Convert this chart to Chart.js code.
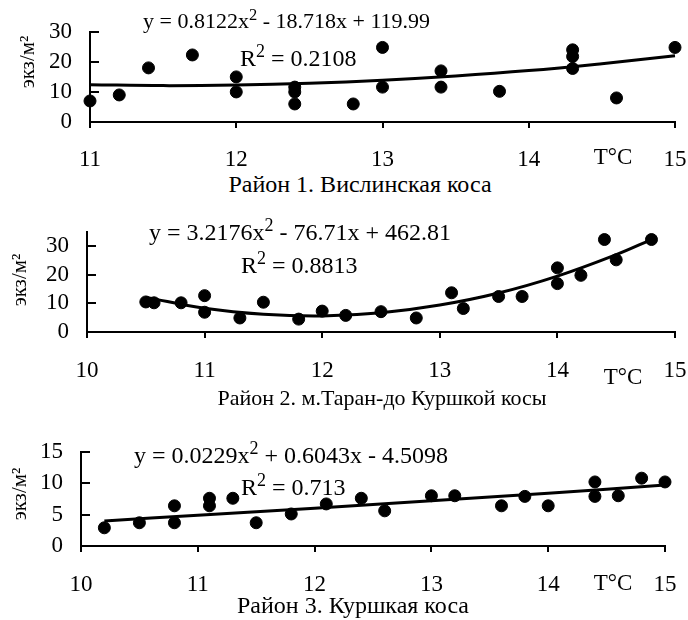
<!DOCTYPE html>
<html>
<head>
<meta charset="utf-8">
<script src="https://cdn.jsdelivr.net/npm/chart.js@4.4.0/dist/chart.umd.min.js"></script>
<style>
  body { margin: 0; background: #fff; }
  #wrap { position: relative; width: 688px; height: 620px; font-family: "Liberation Serif", "Times New Roman", serif; color: #000; }
  canvas { position: absolute; left: 0; }
  .txt { position: absolute; white-space: nowrap; line-height: 1; transform: translateY(-50%); font-size: 22px; }
  .ctr { transform: translate(-50%, -50%); }
  sup { font-size: 0.75em; vertical-align: 0.5em; line-height: 0; }
</style>
</head>
<body>
<div id="wrap">
  <canvas id="c1" width="688" height="170" style="top:0"></canvas>
  <canvas id="c2" width="688" height="190" style="top:200px"></canvas>
  <canvas id="c3" width="688" height="180" style="top:420px"></canvas>

  <div class="txt" style="left:143px;top:21px">y = 0.8122x<sup>2</sup> - 18.718x + 119.99</div>
  <div class="txt" style="left:240px;top:58px;font-size:24px">R<sup>2</sup> = 0.2108</div>
  <div class="txt ctr" style="left:613px;top:156px;font-size:23px">T°C</div>
  <div class="txt ctr" style="left:360px;top:184px;font-size:24px">Район 1. Вислинская коса</div>

  <div class="txt" style="left:149px;top:232px;font-size:24px">y = 3.2176x<sup>2</sup> - 76.71x + 462.81</div>
  <div class="txt" style="left:241px;top:265px;font-size:24px">R<sup>2</sup> = 0.8813</div>
  <div class="txt ctr" style="left:623px;top:376px;font-size:23px">T°C</div>
  <div class="txt ctr" style="left:382px;top:398px;font-size:22px">Район 2. м.Таран-до Куршкой косы</div>

  <div class="txt" style="left:134px;top:455px;font-size:24px">y = 0.0229x<sup>2</sup> + 0.6043x - 4.5098</div>
  <div class="txt" style="left:241px;top:487px;font-size:24px">R<sup>2</sup> = 0.713</div>
  <div class="txt ctr" style="left:613px;top:582px;font-size:23px">T°C</div>
  <div class="txt ctr" style="left:353px;top:605px;font-size:24px">Район 3. Куршкая коса</div>
</div>
<script>
// Район 1
const p1X = [11.0, 11.2, 11.4, 11.7, 12.0, 12.0, 12.4, 12.4, 12.4, 12.8, 13.0, 13.0, 13.4, 13.4, 13.8, 14.3, 14.3, 14.3, 14.6, 15.0];
const p1Y = [7.0, 9.0, 18.0, 22.3, 15.0, 10.0, 11.6, 10.0, 6.0, 6.0, 24.8, 11.6, 17.0, 11.6, 10.2, 24.0, 21.8, 17.8, 8.0, 24.8];
const p1TrendX = [11, 11.5, 12, 12.5, 13, 13.5, 14, 14.5, 15];
const p1TrendY = [12.4, 12.1, 12.3, 12.9, 13.9, 15.3, 17.1, 19.4, 22.0];
const p1XTicks = [11, 12, 13, 14, 15];
const p1YTicks = [0, 10, 20, 30];

// Район 2
const p2X = [10.5, 10.57, 10.8, 11.0, 11.0, 11.3, 11.5, 11.8, 12.0, 12.2, 12.5, 12.8, 13.1, 13.2, 13.5, 13.7, 14.0, 14.0, 14.2, 14.4, 14.5, 14.8];
const p2Y = [10.5, 10.2, 10.2, 12.7, 6.9, 4.9, 10.4, 4.5, 7.3, 5.8, 7.1, 4.9, 13.7, 8.2, 12.4, 12.4, 22.4, 16.9, 19.8, 32.3, 25.2, 32.3];
const p2TrendX = [10.5, 11, 11.5, 12, 12.5, 13, 13.5, 14, 14.5, 14.8];
const p2TrendY = [12.1, 8.3, 6.2, 5.6, 6.7, 9.4, 13.6, 19.5, 27.0, 32.3];
const p2XTicks = [10, 11, 12, 13, 14, 15];
const p2YTicks = [0, 10, 20, 30];

// Район 3
const p3X = [10.2, 10.5, 10.8, 10.8, 11.1, 11.1, 11.3, 11.5, 11.8, 12.1, 12.4, 12.6, 13.0, 13.2, 13.6, 13.8, 14.0, 14.4, 14.4, 14.6, 14.8, 15.0];
const p3Y = [2.9, 3.7, 6.4, 3.7, 7.6, 6.4, 7.6, 3.7, 5.1, 6.7, 7.6, 5.6, 8.0, 8.0, 6.4, 7.9, 6.4, 10.2, 7.9, 8.0, 10.8, 10.2];
const p3TrendX = [10.2, 11, 12, 13, 14, 15];
const p3TrendY = [4.0, 4.9, 6.0, 7.2, 8.4, 9.7];
const p3XTicks = [10, 11, 12, 13, 14, 15];
const p3YTicks = [0, 5, 10, 15];

const yTitle = 'экз/м²';
const serif = '"Liberation Serif", "Times New Roman", serif';

Chart.defaults.color = '#000';
Chart.defaults.font.family = serif;

// y-axis ticks point inward, and the rotated unit label sits left of the numbers
const axisExtras = {
    id: 'axisExtras',
    afterDraw(chart, args, opts) {
        const ys = chart.scales.y;
        const ctx = chart.ctx;
        ctx.save();
        ctx.strokeStyle = '#000';
        ctx.lineWidth = 2;
        ys.ticks.forEach(t => {
            const py = Math.round(ys.getPixelForValue(t.value));
            ctx.beginPath();
            ctx.moveTo(ys.right, py);
            ctx.lineTo(ys.right + 9, py);
            ctx.stroke();
        });
        ctx.translate(opts.titleX, opts.titleY);
        ctx.rotate(-Math.PI / 2);
        ctx.fillStyle = '#000';
        ctx.font = '21px ' + serif;
        ctx.textAlign = 'center';
        ctx.textBaseline = 'middle';
        ctx.fillText(yTitle, 0, 0);
        ctx.restore();
    }
};

function pts(xs, ys) {
    return xs.map((x, i) => ({ x: x, y: ys[i] }));
}

function makeChart(id, o) {
    new Chart(document.getElementById(id), {
        type: 'scatter',
        data: {
            datasets: [{
                data: pts(o.xs, o.ys),
                backgroundColor: '#000',
                borderColor: '#000',
                pointRadius: 6,
                pointHoverRadius: 6,
                clip: false
            }, {
                type: 'line',
                data: pts(o.tx, o.ty),
                borderColor: '#000',
                borderWidth: 3,
                pointRadius: 0,
                fill: false,
                tension: 0.4,
                clip: false
            }]
        },
        options: {
            responsive: false,
            animation: false,
            events: [],
            layout: { padding: { top: o.padTop, right: o.padRight, left: 0, bottom: 0 } },
            plugins: {
                legend: { display: false },
                tooltip: { enabled: false },
                axisExtras: { titleX: o.titleX, titleY: o.titleY }
            },
            scales: {
                x: {
                    type: 'linear',
                    min: o.xMin,
                    max: o.xMax,
                    afterBuildTicks: s => { s.ticks = o.xTicks.map(v => ({ value: v })); },
                    afterFit: s => { s.height = o.xHeight; s.paddingLeft = 0; s.paddingRight = 0; },
                    ticks: { padding: o.tickPad, autoSkip: false, maxRotation: 0, font: { size: 23 } },
                    grid: { drawOnChartArea: false, drawTicks: true, tickLength: 6, color: '#000', lineWidth: 2 },
                    border: { color: '#000', width: 2 }
                },
                y: {
                    min: 0,
                    max: o.yMax,
                    afterBuildTicks: s => { s.ticks = o.yTicks.map(v => ({ value: v })); },
                    afterFit: s => { s.width = o.yWidth; },
                    ticks: { padding: 18, autoSkip: false, font: { size: 23 } },
                    grid: { drawOnChartArea: false, drawTicks: false },
                    border: { color: '#000', width: 2 }
                }
            }
        },
        plugins: [axisExtras]
    });
}

makeChart('c1', { xs: p1X, ys: p1Y, tx: p1TrendX, ty: p1TrendY, xTicks: p1XTicks, yTicks: p1YTicks,
    xMin: 11, xMax: 15, yMax: 30, yWidth: 90, xHeight: 48, padTop: 19, padRight: 13, tickPad: 18,
    titleX: 28, titleY: 62 });
makeChart('c2', { xs: p2X, ys: p2Y, tx: p2TrendX, ty: p2TrendY, xTicks: p2XTicks, yTicks: p2YTicks,
    xMin: 10, xMax: 15, yMax: 35, yWidth: 87, xHeight: 58, padTop: 25, padRight: 13, tickPad: 19,
    titleX: 20, titleY: 80 });
makeChart('c3', { xs: p3X, ys: p3Y, tx: p3TrendX, ty: p3TrendY, xTicks: p3XTicks, yTicks: p3YTicks,
    xMin: 10, xMax: 15, yMax: 15, yWidth: 81, xHeight: 54, padTop: 26, padRight: 23, tickPad: 19,
    titleX: 20, titleY: 74 });
</script>
</body>
</html>
